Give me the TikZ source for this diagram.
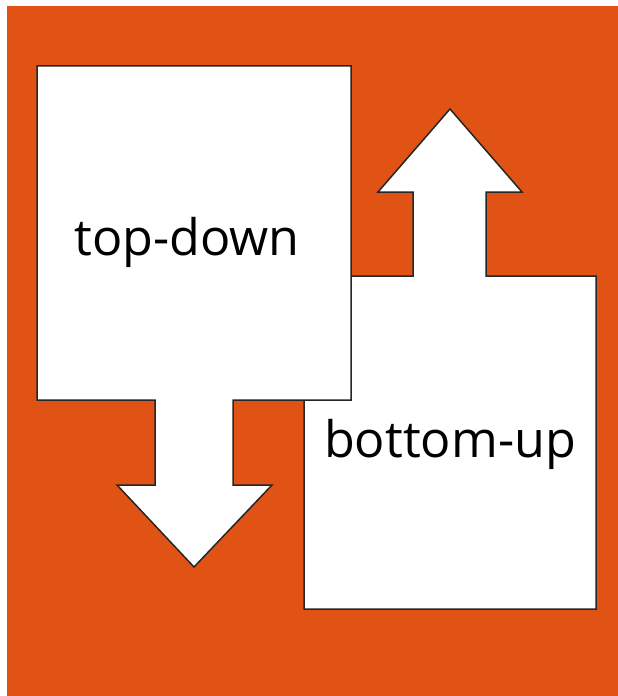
\documentclass[tikz,border=0pt]{standalone}
\usepackage{fontspec}
\setmainfont{Open Sans}
\definecolor{bgorange}{RGB}{224,83,21}

\begin{document}
\begin{tikzpicture}[
x=1bp, y=-1bp,
panel/.style={draw=black!85, fill=white, line width=1.5bp, line join=miter},
caption/.style={anchor=base, text=black, font=\fontsize{50.5}{60}\selectfont}]

\useasboundingbox (0,0) rectangle (618,696);
\fill[bgorange] (7,6) rectangle (618,696);

% bottom-up block, arrow pointing up
\draw[panel] (304,609) -- (304,276) -- (413,276) -- (413,192) -- (378,192)
  -- (450,109) -- (522,192) -- (486,192) -- (486,276) -- (596,276)
  -- (596,609) -- cycle;

% top-down block, arrow pointing down
\draw[panel] (37,66) -- (351,66) -- (351,400) -- (233,400) -- (233,485)
  -- (272,485) -- (194,567) -- (117,485) -- (155,485) -- (155,400)
  -- (37,400) -- cycle;

\node[caption] (td) at (187,255) {top-down};
\node[caption] (bu) at (450,457) {bottom-up};
\end{tikzpicture}
\end{document}
